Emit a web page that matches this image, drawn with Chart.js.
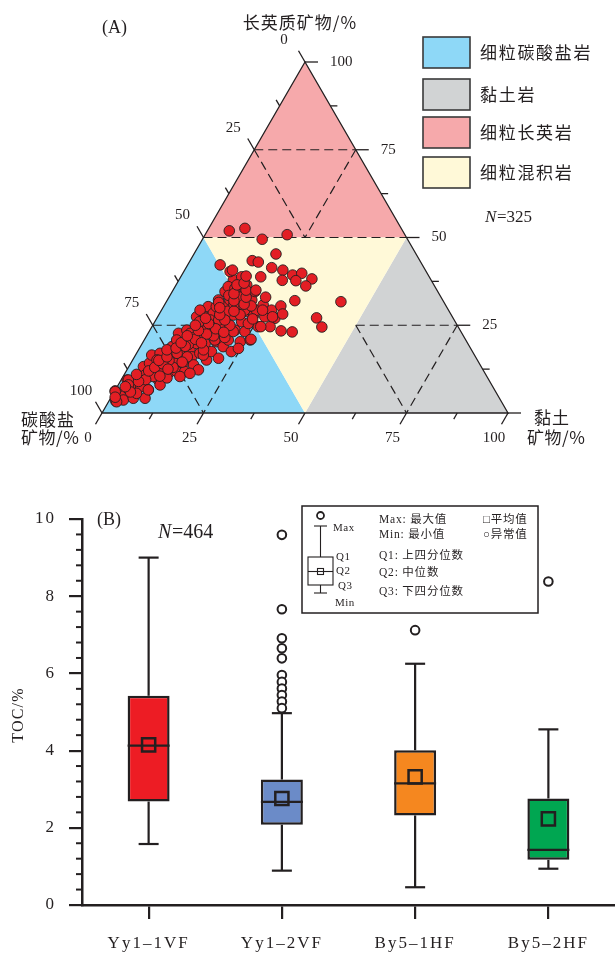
<!DOCTYPE html>
<html>
<head>
<meta charset="utf-8">
<script src="https://cdn.jsdelivr.net/npm/chart.js@4.4.1/dist/chart.umd.min.js"></script>
<style>
  html, body { margin: 0; padding: 0; background: #fff; }
  #wrap { position: relative; width: 615px; height: 957px; }
  #ternary { position: absolute; left: 0; top: 0; }
  #toc { position: absolute; left: 0; top: 470px; }
</style>
</head>
<body>
<div id="wrap">
  <canvas id="ternary" width="615" height="470"></canvas>
  <canvas id="toc" width="615" height="487"></canvas>
</div>
<script>
const INK = '#231f20';
const SERIF = '"Liberation Serif", "Noto Sans CJK SC", serif';
const CJK = '"Noto Sans CJK SC", sans-serif';
const SQ = Math.sqrt(3) / 2;

// (A) ternary samples: felsic (长英质) and clay (黏土) in %, carbonate = 100 - felsic - clay
const felsic = [
  6.3, 3.4, 5.1, 5.1, 9.4, 7.0, 8.5, 5.8, 10.4, 8.0, 13.2, 10.8, 6.6, 14.2, 16.5, 12.3, 9.4, 17.0, 14.6, 11.8,
  13.2, 11.3, 18.9, 16.0, 14.2, 11.8, 22.7, 18.4, 16.5, 14.2, 11.8, 23.6, 20.8, 18.4, 16.0, 13.7, 27.4, 24.6, 19.8, 12.3,
  17.0, 22.7, 25.1, 27.4, 19.8, 15.1, 30.3, 22.7, 17.5, 28.4, 25.1, 20.3, 32.2, 15.6, 27.9, 23.2, 18.9, 34.6, 30.3, 26.0,
  20.8, 32.2, 17.5, 27.9, 37.9, 23.6, 34.1, 30.3, 20.3, 26.0, 36.0, 32.2, 23.2, 28.9, 25.5, 20.8, 32.2, 27.9, 34.6, 38.8,
  40.3, 36.5, 23.2, 24.6, 26.5, 29.3, 22.7, 20.8, 17.5, 15.1, 10.4, 7.5, 7.5, 3.7, 4.2, 4.2, 8.0, 10.4, 11.3, 20.8,
  16.5, 18.4, 30.3, 36.0, 29.3, 29.3, 30.8, 27.4, 24.6, 29.3, 27.0,
  19.5, 21.5, 24.0, 26.5, 29.0, 31.0, 33.0, 22.0, 25.0, 28.0, 30.5, 16.0, 18.0, 21.5, 13.0, 15.0, 12.0, 9.5, 10.0, 26.0,
  33.5, 35.5, 31.5, 6.1, 3.2, 9.4, 5.6, 6.6,
  8.0, 9.0, 11.0, 12.0, 13.0, 14.0, 15.0, 16.0, 17.0, 18.0, 18.5, 19.0, 20.0, 21.0, 22.0, 22.5, 23.5, 24.0, 25.0, 25.5,
  26.5, 27.0, 28.0, 29.0, 30.0, 31.0, 32.0, 33.0, 34.0, 35.0, 36.5, 37.0, 12.5, 14.5, 10.5, 6.0, 7.5, 4.5, 20.0, 23.0,
  51.9, 52.6, 49.5, 50.8, 45.3, 43.4, 43.0, 42.2, 41.4, 40.7, 40.7, 39.0, 38.8, 39.3, 39.8, 37.7, 38.2, 37.8, 36.2, 35.0,
  33.0, 32.0, 31.7, 30.5, 27.1, 24.5, 23.4, 23.1, 24.6, 24.6, 27.4, 28.2, 29.3, 26.8, 21.0,
];
const clay = [
  0.1, 1.7, 1.9, 3.1, 1.5, 2.8, 3.9, 5.6, 4.0, 5.8, 3.6, 5.2, 8.1, 4.6, 4.0, 7.0, 9.2, 5.8, 7.4, 9.2,
  9.3, 10.7, 7.8, 9.6, 10.9, 12.5, 7.5, 10.0, 11.4, 12.9, 14.5, 9.1, 10.9, 12.5, 14.1, 15.7, 9.6, 11.0, 13.4, 17.6,
  15.6, 13.2, 12.4, 11.7, 15.5, 18.2, 11.0, 15.2, 18.2, 13.2, 15.2, 18.0, 12.6, 20.9, 15.1, 17.9, 20.4, 13.0, 15.5, 17.7,
  20.7, 15.4, 23.1, 18.4, 13.4, 21.0, 16.2, 18.5, 23.9, 21.4, 16.8, 18.7, 23.6, 21.2, 23.3, 26.1, 20.8, 23.4, 20.4, 15.0,
  11.4, 17.4, 20.7, 17.6, 13.4, 9.5, 10.4, 8.0, 8.0, 6.0, 7.4, 5.7, 3.2, 3.4, 5.6, 8.5, 10.3, 14.0, 16.0, 17.4,
  16.7, 24.4, 13.0, 13.1, 20.5, 23.4, 24.3, 26.4, 26.2, 27.1, 29.1,
  11.5, 12.0, 14.0, 15.5, 16.5, 17.0, 17.5, 16.5, 19.0, 20.0, 21.5, 13.0, 16.0, 19.5, 11.0, 9.0, 8.5, 6.0, 11.0, 11.0,
  14.5, 15.0, 13.0, 0.2, 2.0, 1.8, 5.7, 8.1,
  2.5, 4.5, 3.0, 5.5, 6.5, 8.0, 6.5, 8.0, 10.0, 7.0, 9.0, 11.0, 9.5, 12.5, 10.0, 14.5, 12.0, 16.0, 10.5, 13.5,
  17.0, 12.0, 15.0, 18.0, 14.0, 19.5, 16.5, 19.0, 15.5, 18.0, 15.0, 16.5, 10.0, 12.5, 9.0, 4.0, 2.0, 1.0, 14.5, 18.5,
  5.4, 8.9, 14.7, 20.2, 20.2, 15.3, 17.0, 8.0, 21.1, 11.8, 24.2, 16.0, 19.7, 27.3, 29.3, 28.9, 32.6, 25.5, 32.1, 20.4,
  23.8, 31.5, 43.0, 28.8, 39.3, 41.9, 32.4, 35.3, 29.1, 26.8, 28.3, 30.4, 24.9, 23.7, 26.2,
];
const axisTicks = [0, 25, 50, 75, 100];
const rockTypes = ['细粒碳酸盐岩', '黏土岩', '细粒长英岩', '细粒混积岩'];
const rockColors = ['#8ed8f7', '#d1d3d4', '#f6a9ab', '#fff9d8'];

// (B) TOC box plots
const wells = ['Yy1–1VF', 'Yy1–2VF', 'By5–1HF', 'By5–2HF'];
const tocMax = [9.0, 4.97, 6.25, 4.55];
const tocUpper = [5.42, 3.25, 4.01, 2.76];
const tocMedian = [4.13, 2.67, 3.15, 1.43];
const tocLower = [2.68, 2.08, 2.32, 1.17];
const tocMin = [1.58, 0.89, 0.46, 0.94];
const tocMean = [4.15, 2.76, 3.32, 2.23];
const tocOutliers = [
  [],
  [9.59, 7.66, 6.91, 6.65, 6.39, 5.96, 5.78, 5.61, 5.44, 5.27, 5.10],
  [7.12],
  [8.38],
];
const boxColors = ['#ed1c24', '#6b8bc8', '#f5871f', '#00a651'];

function label(ctx, str, x, y, font, align, spacing) {
  ctx.save();
  ctx.font = font;
  ctx.fillStyle = INK;
  ctx.textAlign = align || 'left';
  ctx.textBaseline = 'middle';
  ctx.letterSpacing = (spacing || 0) + 'px';
  ctx.fillText(str, x, y);
  ctx.restore();
}

function seg(ctx, x1, y1, x2, y2) {
  ctx.beginPath();
  ctx.moveTo(x1, y1);
  ctx.lineTo(x2, y2);
  ctx.stroke();
}

const ternaryFrame = {
  id: 'ternaryFrame',
  beforeDatasetsDraw(chart) {
    const { ctx } = chart;
    const P = (x, y) => [chart.scales.x.getPixelForValue(x), chart.scales.y.getPixelForValue(y)];
    const H = 100 * SQ;
    // the four fields: carbonate, clay, felsic, mixed
    const fields = [
      [[0, 0], [50, 0], [25, H / 2]],
      [[50, 0], [100, 0], [75, H / 2]],
      [[50, H], [25, H / 2], [75, H / 2]],
      [[25, H / 2], [75, H / 2], [50, 0]],
    ];
    ctx.save();
    fields.forEach((tri, i) => {
      ctx.beginPath();
      tri.forEach(([x, y], k) => {
        const [px, py] = P(x, y);
        k ? ctx.lineTo(px, py) : ctx.moveTo(px, py);
      });
      ctx.closePath();
      ctx.fillStyle = rockColors[i];
      ctx.fill();
    });

    // dashed sub-division lines
    ctx.strokeStyle = INK;
    ctx.lineWidth = 1.2;
    ctx.setLineDash([9, 5]);
    const dashes = [
      [[25, H / 2], [75, H / 2]],
      [[37.5, H * 0.75], [62.5, H * 0.75]], [[37.5, H * 0.75], [50, H / 2]], [[62.5, H * 0.75], [50, H / 2]],
      [[12.5, H / 4], [37.5, H / 4]], [[12.5, H / 4], [25, 0]], [[37.5, H / 4], [25, 0]],
      [[62.5, H / 4], [87.5, H / 4]], [[62.5, H / 4], [75, 0]], [[87.5, H / 4], [75, 0]],
    ];
    dashes.forEach(([a, b]) => {
      const [x1, y1] = P(a[0], a[1]);
      const [x2, y2] = P(b[0], b[1]);
      seg(ctx, x1, y1, x2, y2);
    });
    ctx.setLineDash([]);

    // outer triangle
    ctx.lineWidth = 1.3;
    ctx.beginPath();
    [[0, 0], [100, 0], [50, H]].forEach(([x, y], k) => {
      const [px, py] = P(x, y);
      k ? ctx.lineTo(px, py) : ctx.moveTo(px, py);
    });
    ctx.closePath();
    ctx.stroke();

    // ticks on the three sides
    for (let i = 0; i <= 8; i++) {
      const t = i * 12.5;
      const len = i % 2 === 0 ? 13 : 7;
      let [px, py] = P(100 - t / 2, t * SQ);
      seg(ctx, px, py, px + len, py);
      [px, py] = P(50 - t / 2, (100 - t) * SQ);
      seg(ctx, px, py, px - 0.5 * len, py - SQ * len);
      [px, py] = P(t, 0);
      seg(ctx, px, py, px - 0.5 * len, py + SQ * len);
    }
    const numFont = '15px ' + SERIF;
    axisTicks.forEach((t) => {
      let [px, py] = P(50 - t / 2, (100 - t) * SQ);
      label(ctx, String(t), px - 21, py - 22, numFont, 'center');
      [px, py] = P(t, 0);
      label(ctx, String(t), px - 14, py + 25, numFont, 'center');
      if (t > 0) {
        [px, py] = P(100 - t / 2, t * SQ);
        label(ctx, String(t), px + 25, py, numFont, 'left');
      }
    });
    ctx.restore();
  },
  afterDraw(chart) {
    const { ctx } = chart;
    label(ctx, '(A)', 102, 28, '18px ' + SERIF, 'left');
    label(ctx, '长英质矿物/%', 300, 23, '17px ' + CJK, 'center', 1);
    label(ctx, '碳酸盐', 21, 420, '17px ' + CJK, 'left', 1);
    label(ctx, '矿物/%', 21, 438, '17px ' + CJK, 'left', 0.5);
    label(ctx, '黏土', 534, 418, '17px ' + CJK, 'left', 1);
    label(ctx, '矿物/%', 527, 438, '17px ' + CJK, 'left', 0.5);

    label(ctx, 'N', 485, 218, 'italic 17px ' + SERIF, 'left');
    label(ctx, '=325', 497, 218, '17px ' + SERIF, 'left');

    const boxTops = [37, 79, 117, 157];
    rockTypes.forEach((name, i) => {
      ctx.save();
      ctx.fillStyle = rockColors[i];
      ctx.fillRect(423, boxTops[i], 47, 31);
      ctx.strokeStyle = '#3a3a3a';
      ctx.lineWidth = 1.6;
      ctx.strokeRect(423, boxTops[i], 47, 31);
      ctx.restore();
      label(ctx, name, 480, boxTops[i] + 16, '17px ' + CJK, 'left', 1.7);
    });
  },
};

new Chart(document.getElementById('ternary'), {
  type: 'scatter',
  data: {
    datasets: [{
      data: felsic.map((f, i) => ({ x: clay[i] + f / 2, y: f * SQ })),
      backgroundColor: '#e31e24',
      borderColor: INK,
      borderWidth: 0.9,
      pointRadius: 5.3,
      clip: false,
    }],
  },
  options: {
    responsive: false,
    animation: false,
    layout: { padding: { left: 102, right: 107, top: 62, bottom: 57 } },
    scales: {
      x: { display: false, min: 0, max: 100 },
      y: { display: false, min: 0, max: 100 * SQ },
    },
    plugins: { legend: { display: false }, tooltip: { enabled: false } },
  },
  plugins: [ternaryFrame],
});

// ---- (B) box plot ----
const boxParts = {
  id: 'boxParts',
  beforeDraw(chart) {
    chart.ctx.letterSpacing = '2px';
  },
  beforeDatasetsDraw(chart) {
    const { ctx } = chart;
    const xs = chart.scales.x;
    const ys = chart.scales.y;
    ctx.save();
    ctx.letterSpacing = '0px';
    ctx.strokeStyle = INK;
    ctx.lineWidth = 2.2;
    wells.forEach((w, i) => {
      const x = xs.getPixelForValue(i);
      seg(ctx, x, ys.getPixelForValue(tocMax[i]), x, ys.getPixelForValue(tocUpper[i]));
      seg(ctx, x, ys.getPixelForValue(tocLower[i]), x, ys.getPixelForValue(tocMin[i]));
      seg(ctx, x - 10, ys.getPixelForValue(tocMax[i]), x + 10, ys.getPixelForValue(tocMax[i]));
      seg(ctx, x - 10, ys.getPixelForValue(tocMin[i]), x + 10, ys.getPixelForValue(tocMin[i]));
    });
    ctx.restore();
  },
  afterDatasetDraw(chart, args) {
    if (args.index !== 0) return;
    const { ctx } = chart;
    const ys = chart.scales.y;
    ctx.save();
    ctx.strokeStyle = INK;
    ctx.lineWidth = 2.2;
    args.meta.data.forEach((bar, i) => {
      const y = ys.getPixelForValue(tocMedian[i]);
      seg(ctx, bar.x - bar.width / 2, y, bar.x + bar.width / 2, y);
    });
    ctx.restore();
  },
  afterDraw(chart) {
    const { ctx } = chart;
    const ys = chart.scales.y;
    const ax = chart.chartArea.left;
    ctx.save();
    ctx.letterSpacing = '0px';
    ctx.strokeStyle = INK;
    ctx.lineWidth = 2;
    // minor ticks every 0.4
    for (let k = 1; k < 25; k++) {
      if (k % 5 === 0) continue;
      const y = ys.getPixelForValue(k * 0.4);
      seg(ctx, ax - 6, y, ax, y);
    }
    ctx.restore();

    ctx.save();
    ctx.translate(19, 245);
    ctx.rotate(-Math.PI / 2);
    label(ctx, 'TOC/%', 0, 0, '16px ' + SERIF, 'center', 1.2);
    ctx.restore();

    label(ctx, '(B)', 97, 50, '18px ' + SERIF, 'left');
    label(ctx, 'N', 158, 63, 'italic 20px ' + SERIF, 'left');
    label(ctx, '=464', 172, 63, '20px ' + SERIF, 'left');

    // explanation box
    const oy = -470;
    ctx.save();
    ctx.strokeStyle = INK;
    ctx.lineWidth = 1.5;
    ctx.strokeRect(302, 506 + oy, 236, 107);
    ctx.lineWidth = 1.1;
    seg(ctx, 320.5, 526 + oy, 320.5, 593 + oy);
    seg(ctx, 314, 526 + oy, 327, 526 + oy);
    seg(ctx, 314, 593 + oy, 327, 593 + oy);
    ctx.fillStyle = '#fff';
    ctx.fillRect(308, 557 + oy, 25, 28);
    ctx.strokeRect(308, 557 + oy, 25, 28);
    seg(ctx, 308, 571.5 + oy, 333, 571.5 + oy);
    ctx.strokeRect(317.5, 568.5 + oy, 6, 6);
    ctx.lineWidth = 1.8;
    ctx.beginPath();
    ctx.arc(320.5, 515.5 + oy, 3.5, 0, Math.PI * 2);
    ctx.stroke();
    ctx.restore();
    const small = '11px ' + SERIF;
    label(ctx, 'Max', 333, 528 + oy, small, 'left', 0.5);
    label(ctx, 'Q1', 336, 557 + oy, small, 'left', 0.5);
    label(ctx, 'Q2', 336, 571 + oy, small, 'left', 0.5);
    label(ctx, 'Q3', 338, 586 + oy, small, 'left', 0.5);
    label(ctx, 'Min', 335, 603 + oy, small, 'left', 0.5);
    const note = '11.5px ' + SERIF;
    label(ctx, 'Max: 最大值', 379, 520 + oy, note, 'left', 0.8);
    label(ctx, 'Min: 最小值', 379, 535 + oy, note, 'left', 0.8);
    label(ctx, 'Q1: 上四分位数', 379, 556 + oy, note, 'left', 0.8);
    label(ctx, 'Q2: 中位数', 379, 573 + oy, note, 'left', 0.8);
    label(ctx, 'Q3: 下四分位数', 379, 592 + oy, note, 'left', 0.8);
    label(ctx, '□平均值', 483, 520 + oy, note, 'left', 0.8);
    label(ctx, '○异常值', 483, 535 + oy, note, 'left', 0.8);
  },
};

const outlierPoints = [];
tocOutliers.forEach((vals, i) => vals.forEach((v) => outlierPoints.push({ x: wells[i], y: v })));

new Chart(document.getElementById('toc'), {
  type: 'bar',
  data: {
    labels: wells,
    datasets: [
      {
        type: 'bar',
        data: tocLower.map((lo, i) => [lo, tocUpper[i]]),
        backgroundColor: boxColors,
        borderColor: INK,
        borderWidth: 2.5,
        borderSkipped: false,
        barPercentage: 0.315,
        categoryPercentage: 1,
        order: 3,
      },
      {
        type: 'line',
        data: tocMean,
        showLine: false,
        pointStyle: 'rect',
        pointRadius: 9.3,
        pointBorderWidth: 2.5,
        pointBackgroundColor: 'rgba(0,0,0,0)',
        pointBorderColor: INK,
        order: 1,
      },
      {
        type: 'line',
        data: outlierPoints,
        showLine: false,
        pointStyle: 'circle',
        pointRadius: 4.3,
        pointBorderWidth: 2,
        pointBackgroundColor: '#fff',
        pointBorderColor: INK,
        order: 2,
      },
    ],
  },
  options: {
    responsive: false,
    animation: false,
    layout: { autoPadding: false, padding: { left: 0, right: 0, top: 49, bottom: 0 } },
    scales: {
      x: {
        afterFit(scale) {
          scale.height = 52;
          scale.paddingLeft = 0;
          scale.paddingRight = 0;
        },
        grid: { display: true, drawOnChartArea: false, offset: false, tickLength: 14, lineWidth: 2.2, color: INK },
        border: { display: true, width: 2.5, color: INK },
        ticks: { color: INK, padding: 14, font: { family: SERIF, size: 17 } },
      },
      y: {
        min: 0,
        max: 10,
        afterFit(scale) {
          scale.width = 82;
          scale.paddingTop = 0;
          scale.paddingBottom = 0;
        },
        grid: { display: true, drawOnChartArea: false, tickLength: 13, lineWidth: 2.2, color: INK },
        border: { display: true, width: 2.5, color: INK },
        ticks: { stepSize: 2, color: INK, padding: 13, font: { family: SERIF, size: 17 } },
      },
    },
    plugins: { legend: { display: false }, tooltip: { enabled: false } },
  },
  plugins: [boxParts],
});
</script>
</body>
</html>
